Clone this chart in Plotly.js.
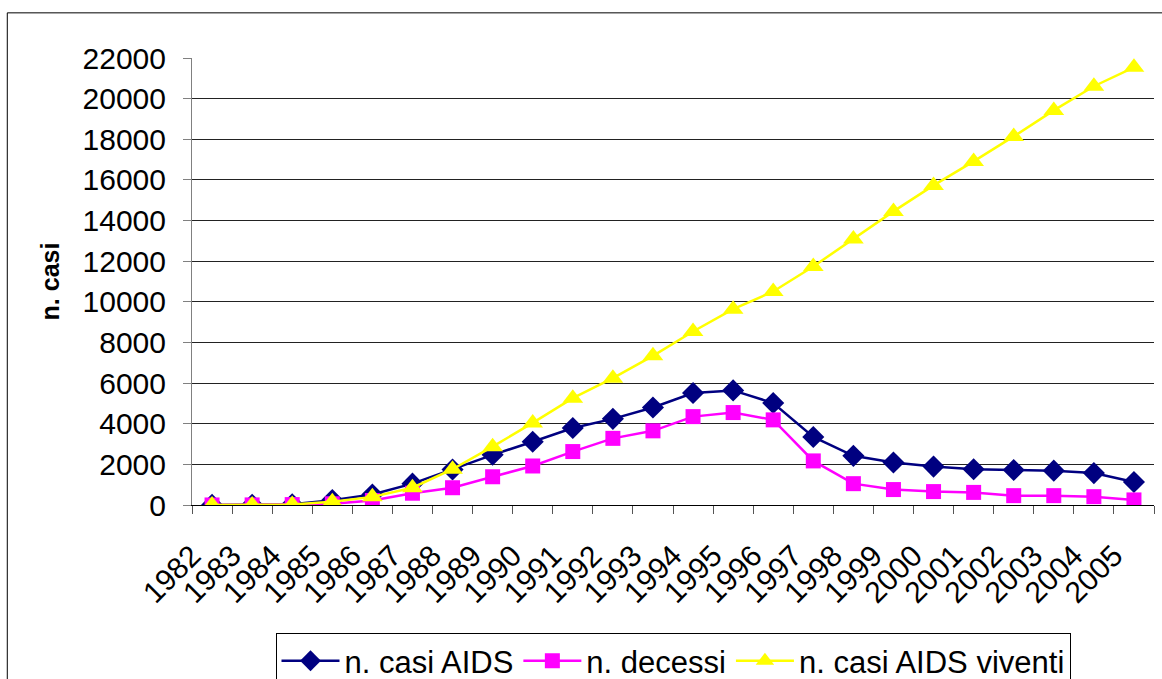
<!DOCTYPE html>
<html>
<head>
<meta charset="utf-8">
<script src="https://cdn.plot.ly/plotly-3.0.1.min.js"></script>
<style>
html,body{margin:0;padding:0;background:#fff;}
#chart{width:1162px;height:679px;}
</style>
</head>
<body>
<div id="chart"></div>
<script>
const years = ["1982","1983","1984","1985","1986","1987","1988","1989","1990","1991","1992","1993","1994","1995","1996","1997","1998","1999","2000","2001","2002","2003","2004","2005"];
const casiAIDS = [5, 10, 40, 240, 520, 1050, 1750, 2470, 3110, 3790, 4240, 4800, 5510, 5640, 5020, 3350, 2420, 2090, 1890, 1760, 1720, 1690, 1570, 1130];
const decessi = [2, 5, 20, 60, 220, 580, 850, 1390, 1920, 2630, 3280, 3650, 4350, 4550, 4190, 2170, 1050, 760, 660, 620, 460, 460, 410, 250];
const viventi = [3, 5, 25, 160, 400, 850, 1760, 2870, 4040, 5260, 6240, 7340, 8540, 9640, 10510, 11740, 13090, 14450, 15730, 16910, 18140, 19420, 20610, 21540];
const seriesNames = ["n. casi AIDS", "n. decessi", "n. casi AIDS viventi"];
const yTicks = [0,2000,4000,6000,8000,10000,12000,14000,16000,18000,20000,22000];

const FONT = "Liberation Sans, Arial, sans-serif";
const FS = 30;

const traces = [
  {x: years, y: casiAIDS, name: seriesNames[0], type: "scatter", mode: "lines+markers",
   line: {color: "#000080", width: 2.5}, marker: {symbol: "diamond", size: 17, color: "#000080"}},
  {x: years, y: decessi, name: seriesNames[1], type: "scatter", mode: "lines+markers",
   line: {color: "#FF00FF", width: 2.5}, marker: {symbol: "square", size: 15, color: "#FF00FF"}},
  {x: years, y: viventi, name: seriesNames[2], type: "scatter", mode: "lines+markers",
   line: {color: "#FFFF00", width: 2.5}, marker: {symbol: "triangle-up", size: 18, color: "#FFFF00"}}
];

const layout = {
  width: 1162, height: 679,
  margin: {l: 192, r: 8, t: 58, b: 174, autoexpand: false},
  paper_bgcolor: "#ffffff",
  plot_bgcolor: "#ffffff",
  font: {family: FONT, size: FS, color: "#000"},
  showlegend: true,
  xaxis: {
    type: "category",
    automargin: false,
    range: [-0.5, years.length - 0.5],
    tickmode: "array",
    tickvals: years,
    ticktext: years,
    tickangle: -45,
    tickson: "boundaries",
    ticks: "outside", ticklen: 8, tickcolor: "#555", tickwidth: 1,
    showgrid: false,
    showline: true, linecolor: "#000", linewidth: 1,
    zeroline: false,
    ticklabelstandoff: 20,
    ticklabelshift: -20,
    tickfont: {family: FONT, size: FS, color: "#000"},
    fixedrange: true
  },
  yaxis: {
    automargin: false,
    range: [0, 22000],
    tickvals: yTicks,
    ticktext: yTicks.map(String),
    ticks: "outside", ticklen: 8, tickcolor: "#808080", tickwidth: 1,
    showgrid: true, gridcolor: "#222", gridwidth: 1,
    showline: true, linecolor: "#808080", linewidth: 1,
    zeroline: false,
    ticklabelstandoff: 11,
    tickfont: {family: FONT, size: FS, color: "#000"},
    title: {text: "<b>n. casi</b>", font: {family: FONT, size: 25, color: "#000"}, standoff: 15},
    fixedrange: true
  },
  legend: {
    orientation: "h",
    x: 0.5, xanchor: "center",
    y: -0.2866, yanchor: "top",
    bordercolor: "#000", borderwidth: 1,
    bgcolor: "#fff",
    font: {family: FONT, size: 31, color: "#000"},
    itemwidth: 58,
    tracegroupgap: 0
  },
  shapes: [
    {type: "rect", xref: "paper", yref: "paper",
     x0: -0.192, x1: 1.2, y0: -0.5, y1: 1.101,
     line: {color: "#000", width: 1}, fillcolor: "rgba(0,0,0,0)", layer: "below"}
  ]
};

Plotly.newPlot("chart", traces, layout, {displayModeBar: false, staticPlot: true});
</script>
</body>
</html>
